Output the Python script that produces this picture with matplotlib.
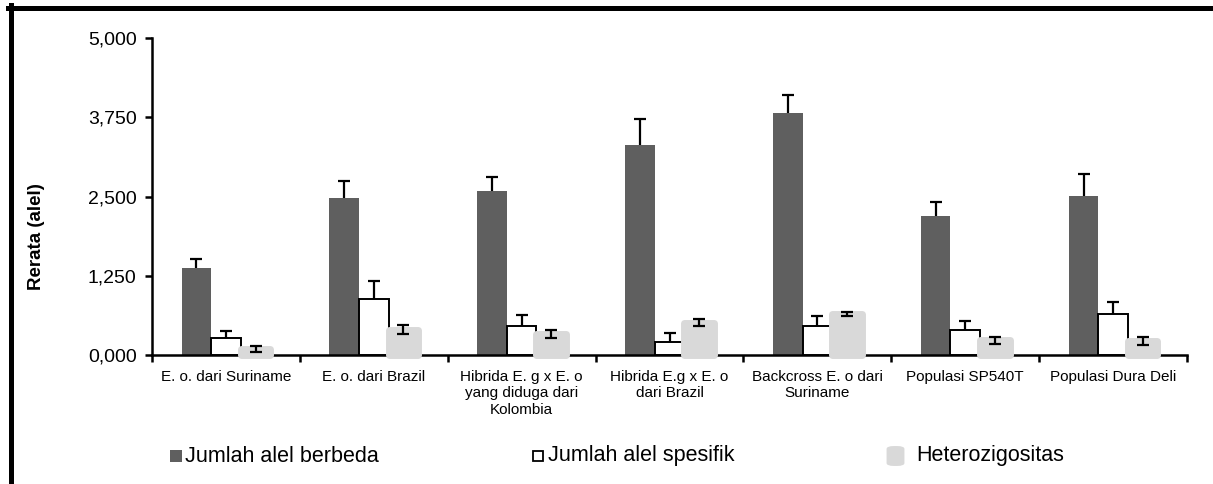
import numpy as np
import matplotlib
matplotlib.use("Agg")
import matplotlib.pyplot as plt
from matplotlib.lines import Line2D
from matplotlib.patches import Rectangle, FancyBboxPatch

plt.rcParams['font.family'] = ['Liberation Sans', 'DejaVu Sans']

categories = ["E. o. dari Suriname", "E. o. dari Brazil",
              "Hibrida E. g x E. o\nyang diduga dari\nKolombia",
              "Hibrida E.g x E. o\ndari Brazil",
              "Backcross E. o dari\nSuriname",
              "Populasi SP540T", "Populasi Dura Deli"]
series_names = ["Jumlah alel berbeda", "Jumlah alel spesifik", "Heterozigositas"]

alel_berbeda = [1.38, 2.48, 2.58, 3.32, 3.82, 2.20, 2.51]
alel_berbeda_err = [0.13, 0.26, 0.23, 0.41, 0.28, 0.22, 0.35]
alel_spesifik = [0.27, 0.885, 0.45, 0.20, 0.45, 0.39, 0.645]
alel_spesifik_err = [0.11, 0.29, 0.18, 0.14, 0.16, 0.15, 0.19]
hetero = [0.10, 0.40, 0.33, 0.51, 0.645, 0.23, 0.22]
hetero_err = [0.045, 0.07, 0.063, 0.06, 0.036, 0.05, 0.058]

yticks = [0, 1.25, 2.5, 3.75, 5.0]

W, H = 1213, 484
fig = plt.figure(figsize=(W / 100, H / 100), dpi=100)
ax = fig.add_axes([152 / W, 1 - 355 / H, (1187 - 152) / W, (355 - 38) / H])

dark = '#5f5f5f'
light = '#d9d9d9'
x = np.arange(len(categories))
w = 0.2

ax.bar(x - w, alel_berbeda, w, color=dark, zorder=2)
ax.bar(x, alel_spesifik, w, color='white', edgecolor='black', linewidth=1.4, zorder=3)
gb = ax.bar(x + w, hetero, w, color=light, edgecolor=light, linewidth=5,
            joinstyle='round', zorder=4)
for p in gb:
    p.set_clip_on(False)

zero = [0] * len(categories)
ekw = dict(fmt='none', ecolor='black', elinewidth=1.6, capsize=4.5, capthick=1.6, zorder=6)
eb1 = ax.errorbar(x - w, alel_berbeda, yerr=[zero, alel_berbeda_err], **ekw)
eb2 = ax.errorbar(x, alel_spesifik, yerr=[zero, alel_spesifik_err], **ekw)
# only upper caps for one-sided bars
eb1[1][0].set_visible(False)
eb2[1][0].set_visible(False)
ax.errorbar(x + w, hetero, yerr=hetero_err, **ekw)

ax.set_xlim(-0.5, len(categories) - 0.5)
ax.set_ylim(0, 5)
ax.set_yticks(yticks)
ax.set_yticklabels([("%.3f" % v).replace('.', ',') for v in yticks], fontsize=14)
ax.set_xticks(np.arange(-0.5, len(categories)), labels=[])
ax.set_xticks(x, labels=categories, minor=True)
ax.tick_params(axis='x', which='minor', length=0, pad=11, labelsize=11)
ax.tick_params(axis='x', which='major', length=5, width=1.8, direction='out')
ax.tick_params(axis='y', length=5, width=1.8, direction='out', pad=6)
for s in ['top', 'right']:
    ax.spines[s].set_visible(False)
for s in ['left', 'bottom']:
    ax.spines[s].set_linewidth(1.8)
ax.set_ylabel("Rerata (alel)", fontsize=13.5, fontweight='bold')
ax.yaxis.set_label_coords((45 - 152) / (1187 - 152), (355 - 237) / (355 - 38))

def fx(px):
    return px / W

def fy(py):
    return 1 - py / H

# legend drawn by hand to match spacing
fig.add_artist(Rectangle((fx(170), fy(462)), fx(12), 12 / H, facecolor=dark,
                         edgecolor='none', transform=fig.transFigure))
fig.add_artist(Rectangle((fx(533), fy(461)), fx(10), 10 / H, facecolor='white',
                         edgecolor='black', linewidth=1.3, transform=fig.transFigure))
fig.add_artist(FancyBboxPatch((fx(889), fy(465)), fx(13), 18 / H,
                              boxstyle="round,pad=0.002,rounding_size=0.006",
                              facecolor=light, edgecolor='none',
                              transform=fig.transFigure))
for tx, name in zip([185, 548, 916], series_names):
    fig.text(fx(tx), fy(456), name, fontsize=15.5, va='center', ha='left')

# outer frame (top and left visible)
fig.add_artist(Line2D([fx(8), 1], [fy(7.5), fy(7.5)], color='black', linewidth=3.6,
                      transform=fig.transFigure))
fig.add_artist(Line2D([fx(10.5), fx(10.5)], [fy(5), 0], color='black', linewidth=3.6,
                      transform=fig.transFigure))

fig.savefig("out.png", dpi=100)
